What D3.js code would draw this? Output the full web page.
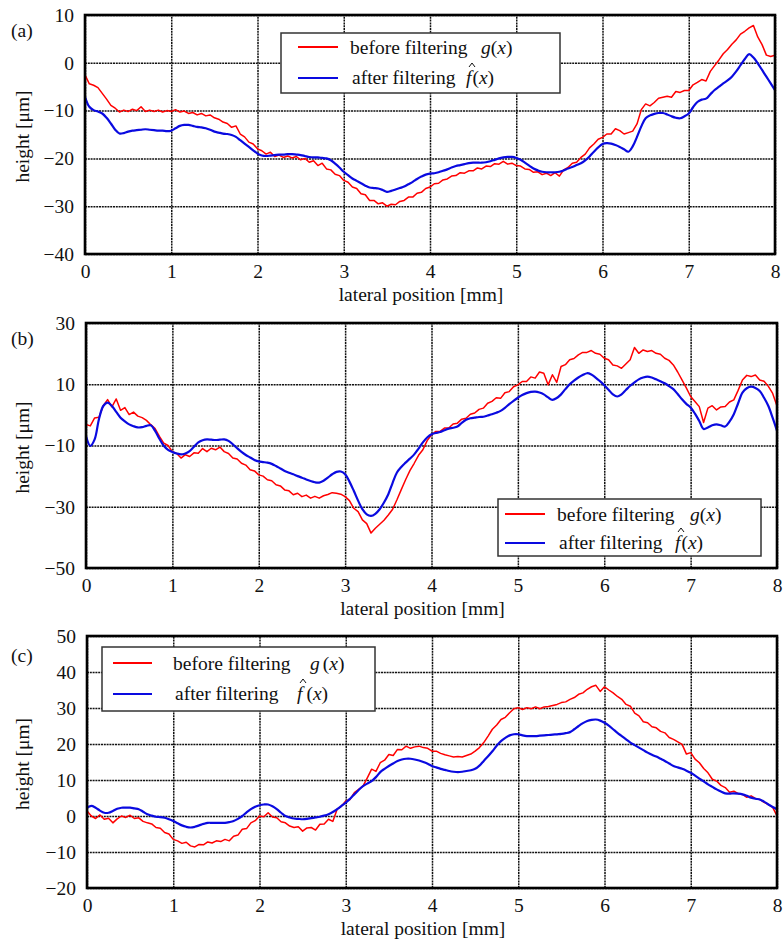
<!DOCTYPE html>
<html>
<head>
<meta charset="utf-8">
<script src="https://cdn.jsdelivr.net/npm/d3@7"></script>
<style>
body { margin: 0; background: #fff; }
svg { display: block; }
</style>
</head>
<body>
<svg width="783" height="943"></svg>
<script>
// samples every 0.05 mm from 0 to 8 mm
var step = 0.05;
var xTicks = [0, 1, 2, 3, 4, 5, 6, 7, 8];
var aTicks = [-40, -30, -20, -10, 0, 10];
var bTicks = [-50, -30, -10, 10, 30];
var cTicks = [-20, -10, 0, 10, 20, 30, 40, 50];

var aRed = [-2.5,-4.4,-4.7,-5.2,-6.4,-7.6,-8.9,-9.5,-10.3,-9.9,-10.2,-9.7,-10.0,-9.2,-10.2,-9.9,-10.2,-9.9,-10.3,-10.0,
  -10.2,-9.8,-10.3,-10.1,-10.6,-10.4,-10.9,-10.6,-11.1,-10.9,-11.5,-11.8,-12.4,-12.7,-13.5,-13.2,-14.9,-15.5,-16.6,-17.0,
  -18.0,-18.4,-19.1,-18.7,-19.6,-19.3,-19.8,-19.5,-19.9,-19.6,-20.3,-20.0,-20.8,-20.5,-21.5,-21.0,-22.2,-22.4,-23.3,-23.6,
  -24.6,-25.0,-26.0,-26.3,-27.4,-27.6,-28.8,-28.8,-29.5,-29.3,-30.0,-29.6,-29.7,-29.0,-28.8,-28.1,-28.1,-27.3,-27.1,-26.3,
  -26.0,-25.3,-25.2,-24.5,-24.3,-23.7,-23.6,-23.0,-23.1,-22.6,-22.6,-22.0,-22.2,-21.6,-21.7,-21.1,-21.2,-20.6,-21.2,-21.0,
  -21.5,-21.6,-22.2,-22.3,-22.9,-22.8,-23.4,-23.1,-23.6,-23.0,-23.7,-22.4,-21.9,-21.0,-20.8,-19.8,-19.1,-17.8,-17.0,-16.0,
  -15.6,-14.9,-14.9,-13.8,-14.2,-14.9,-14.6,-14.3,-12.8,-9.8,-8.6,-9.0,-8.3,-7.4,-7.2,-7.0,-7.2,-6.0,-6.2,-5.8,
  -5.8,-4.6,-4.1,-3.5,-3.8,-1.8,-0.6,0.6,1.9,2.8,3.9,4.8,6.0,6.6,7.3,7.8,5.4,3.8,1.6,1.3,
  1.6];
var aBlue = [-7.1,-9.2,-9.9,-10.2,-10.6,-11.5,-12.7,-14.0,-14.8,-14.7,-14.4,-14.2,-14.1,-14.0,-13.9,-14.0,-14.1,-14.2,-14.2,-14.3,
  -14.2,-13.7,-13.2,-13.0,-13.0,-13.2,-13.4,-13.5,-13.7,-14.0,-14.4,-14.6,-14.8,-14.9,-15.1,-15.5,-16.2,-16.9,-17.6,-18.3,
  -19.0,-19.4,-19.5,-19.4,-19.3,-19.2,-19.2,-19.1,-19.1,-19.2,-19.3,-19.5,-19.7,-19.8,-19.8,-19.9,-20.0,-20.4,-21.1,-21.9,
  -22.8,-23.5,-24.2,-24.7,-25.2,-25.7,-26.1,-26.2,-26.3,-26.6,-27.0,-26.8,-26.5,-26.2,-25.9,-25.4,-24.9,-24.3,-23.8,-23.4,
  -23.2,-23.1,-22.9,-22.6,-22.3,-21.9,-21.6,-21.4,-21.2,-21.0,-20.9,-20.9,-20.9,-20.8,-20.6,-20.3,-20.0,-19.8,-19.7,-19.7,
  -19.9,-20.3,-20.9,-21.5,-22.1,-22.5,-22.8,-22.9,-22.9,-22.9,-22.8,-22.5,-22.1,-21.8,-21.4,-21.0,-20.4,-19.6,-18.6,-17.7,
  -17.0,-16.8,-16.9,-17.2,-17.6,-18.1,-18.6,-17.5,-15.5,-13.3,-11.6,-11.0,-10.7,-10.5,-10.5,-10.8,-11.2,-11.5,-11.6,-11.2,
  -10.6,-9.3,-8.2,-7.7,-7.5,-6.6,-5.7,-5.0,-4.3,-3.7,-2.9,-1.8,-0.5,0.8,1.8,1.1,-0.1,-1.5,-2.9,-4.3,
  -5.7];

var bRed = [-3.1,-3.6,-1.0,-0.8,3.0,5.0,2.6,5.2,1.5,2.4,0.1,0.9,-0.4,-0.9,-1.8,-3.2,-4.5,-7.0,-9.2,-10.0,
  -12.0,-12.6,-14.1,-13.0,-13.6,-12.4,-12.5,-11.0,-12.0,-10.9,-11.4,-10.5,-12.0,-12.6,-14.1,-14.4,-15.8,-16.4,-17.9,-18.3,
  -19.6,-20.0,-21.2,-21.5,-22.8,-23.2,-24.5,-24.8,-26.1,-25.6,-26.7,-26.2,-27.2,-26.6,-27.2,-26.4,-26.0,-25.4,-25.6,-25.9,
  -26.7,-28.0,-30.5,-31.6,-34.3,-35.5,-38.6,-37.0,-35.7,-34.4,-32.7,-30.8,-27.7,-24.4,-21.2,-18.2,-15.8,-13.2,-11.4,-8.4,
  -6.5,-5.4,-5.4,-4.3,-4.3,-3.0,-2.7,-1.4,-1.1,0.2,0.6,1.8,2.2,3.8,4.4,5.6,5.4,7.2,7.6,9.2,
  9.8,10.9,10.9,12.4,12.0,14.0,13.6,9.8,13.1,10.6,15.8,16.4,18.0,18.4,19.6,20.4,20.4,21.0,20.1,19.8,
  18.5,18.0,16.3,16.0,15.2,16.6,18.0,22.0,20.1,21.2,20.7,21.0,20.1,19.8,18.5,17.8,16.3,14.0,11.4,8.8,
  6.0,4.4,2.7,-2.5,2.2,3.0,1.6,2.6,2.7,4.2,4.9,8.0,11.4,12.9,12.5,13.0,11.4,11.0,9.3,7.0,
  2.9];
var bBlue = [-6.9,-10.1,-8.0,-1.4,2.9,4.0,2.9,1.0,-0.9,-2.1,-3.1,-3.7,-4.1,-4.0,-3.6,-3.4,-5.2,-7.8,-10.1,-11.4,
  -12.1,-12.6,-12.9,-12.6,-11.8,-10.4,-9.0,-8.3,-8.0,-8.1,-8.2,-8.1,-8.0,-8.5,-9.6,-10.9,-12.1,-13.1,-13.9,-14.7,
  -15.2,-15.4,-15.6,-16.0,-16.7,-17.5,-18.3,-18.9,-19.4,-20.0,-20.5,-21.1,-21.6,-22.0,-22.1,-21.5,-20.5,-19.4,-18.6,-18.5,
  -19.4,-21.8,-24.8,-28.0,-30.8,-32.5,-33.0,-32.3,-30.8,-28.6,-25.9,-22.2,-18.8,-17.0,-15.6,-14.3,-12.9,-11.0,-9.0,-7.4,
  -6.3,-5.9,-5.6,-5.0,-4.5,-4.2,-3.8,-2.6,-1.6,-1.1,-0.9,-0.7,-0.6,-0.2,0.2,0.7,1.3,2.3,3.5,4.6,
  5.6,6.5,7.1,7.5,7.6,7.3,6.7,5.7,4.9,5.5,6.7,8.4,10.0,11.2,12.2,13.0,13.6,13.2,12.2,11.0,
  9.7,8.2,6.7,6.0,6.7,8.1,9.5,10.6,11.6,12.2,12.5,12.2,11.6,11.0,10.3,9.4,8.4,6.8,5.1,3.6,
  2.4,0.4,-2.0,-4.6,-4.1,-3.4,-3.1,-3.4,-3.8,-2.2,0.2,3.8,7.3,8.7,9.2,8.8,7.8,5.6,2.9,-1.0,
  -5.2];

var cRed = [1.4,0.0,-0.7,0.3,-0.9,-0.6,-1.9,-0.8,0.0,-0.4,0.2,-0.7,-0.5,-1.5,-1.9,-2.2,-3.2,-3.4,-4.6,-5.0,
  -6.5,-6.9,-7.6,-7.3,-8.3,-8.6,-7.9,-8.0,-7.2,-7.5,-6.9,-7.1,-6.5,-6.9,-5.6,-5.3,-3.7,-3.5,-1.9,-1.3,
  0.0,-0.2,0.9,-0.3,-0.5,-1.6,-1.9,-2.8,-3.2,-3.0,-4.2,-3.3,-3.2,-3.9,-2.3,-2.2,-0.9,-1.5,1.9,2.7,
  4.2,4.6,6.5,7.4,8.3,10.6,13.0,12.4,14.8,15.5,17.1,16.8,18.5,18.4,19.4,18.8,19.2,19.4,19.0,18.8,
  18.0,18.0,17.4,17.0,16.7,16.4,16.5,16.4,16.8,17.2,18.0,19.0,20.4,22.2,24.1,25.3,26.8,27.4,28.7,29.8,
  30.1,29.6,30.1,29.8,30.3,29.8,30.3,30.4,30.7,31.0,31.5,31.7,32.4,32.9,33.8,34.2,35.2,35.9,36.3,34.6,
  35.9,35.0,34.2,33.2,32.4,31.0,30.5,28.6,27.8,26.2,25.9,24.8,24.5,23.5,23.1,21.8,21.3,20.6,19.9,17.2,
  17.6,15.8,14.8,13.2,12.0,10.2,9.7,8.5,7.9,6.6,6.9,6.2,6.0,5.2,5.6,4.9,4.6,3.8,3.2,2.4,
  0.0];
var cBlue = [2.3,2.8,2.3,1.5,0.9,0.9,1.4,2.0,2.3,2.3,2.3,2.1,1.9,1.2,0.5,0.1,-0.2,-0.3,-0.5,-0.9,
  -1.4,-2.0,-2.6,-3.0,-3.2,-3.0,-2.6,-2.2,-1.9,-1.9,-1.9,-1.9,-1.9,-1.7,-1.4,-0.8,0.0,1.0,1.9,2.6,
  3.0,3.2,3.2,2.7,1.9,0.9,0.0,-0.4,-0.7,-0.8,-0.9,-0.8,-0.6,-0.4,-0.2,0.1,0.5,1.1,1.9,2.8,
  3.7,4.8,6.0,7.2,8.3,9.0,9.7,10.8,12.2,13.1,13.9,14.6,15.3,15.7,15.9,15.9,15.7,15.4,15.0,14.5,
  13.9,13.5,13.1,12.8,12.5,12.3,12.2,12.3,12.5,12.7,13.1,14.0,15.3,16.6,18.0,19.5,20.8,21.7,22.4,22.7,
  22.7,22.4,22.2,22.2,22.2,22.3,22.4,22.5,22.6,22.7,22.8,23.0,23.3,24.1,25.0,25.8,26.4,26.7,26.8,26.5,
  25.9,25.1,24.1,23.1,22.2,21.3,20.4,19.7,19.0,18.3,17.6,17.0,16.5,15.9,15.3,14.6,13.9,13.5,13.1,12.6,
  12.0,11.2,10.4,9.6,8.8,8.1,7.4,6.8,6.3,6.2,6.3,6.2,6.0,5.6,5.1,4.8,4.6,4.0,3.2,2.5,
  1.9];

var svg = d3.select("svg");
var font = 19.5;
var serif = "'Liberation Serif', 'Times New Roman', Tinos, 'DejaVu Serif', serif";

var panels = [
  { tag: "(a)", red: aRed, blue: aBlue, ticks: aTicks, left: 85, right: 775, top: 15, bottom: 254, tagY: 37,
    leg: { x: 281, y: 33, w: 279, h: 60, l0: 17, l1: 57, ry: 14, by: 45, tx: 69, gx: 200, fx: 185, gap: 0 } },
  { tag: "(b)", red: bRed, blue: bBlue, ticks: bTicks, left: 86, right: 777, top: 323, bottom: 568, tagY: 345,
    leg: { x: 498, y: 499, w: 263, h: 57, l0: 7, l1: 47, ry: 15, by: 44, tx: 59, gx: 192, fx: 177, gap: 0 } },
  { tag: "(c)", red: cRed, blue: cBlue, ticks: cTicks, left: 87, right: 777, top: 636, bottom: 888, tagY: 662,
    leg: { x: 102, y: 647, w: 273, h: 64, l0: 11, l1: 50, ry: 16, by: 47, tx: 71, gx: 208, fx: 195, gap: 3 } }
];

panels.forEach(function(p, k) {
  var x = d3.scaleLinear().domain([0, 8]).range([p.left, p.right]);
  var y = d3.scaleLinear().domain(d3.extent(p.ticks)).range([p.bottom, p.top]);
  var h = p.bottom - p.top, w = p.right - p.left;
  var g = svg.append("g").style("font-family", serif).attr("fill", "#111");

  var clipId = "clip" + k;
  g.append("clipPath").attr("id", clipId)
    .append("rect").attr("x", p.left).attr("y", p.top).attr("width", w).attr("height", h);

  // grid + tick labels
  var xa = g.append("g").attr("transform", "translate(0," + p.bottom + ")")
    .call(d3.axisBottom(x).tickValues(xTicks).tickSize(-h).tickPadding(10).tickFormat(d3.format("d")));
  var ya = g.append("g").attr("transform", "translate(" + p.left + ",0)")
    .call(d3.axisLeft(y).tickValues(p.ticks).tickSize(-w).tickPadding(11)
      .tickFormat(function(d) { return d < 0 ? "\u2212" + Math.abs(d) : d; }));
  [xa, ya].forEach(function(a) {
    a.attr("font-family", null).attr("font-size", font);
    a.select(".domain").remove();
    a.selectAll("line").attr("stroke", "#111").attr("stroke-width", 1.5).attr("stroke-dasharray", "2,0.8");
    a.selectAll("text").attr("fill", "#111");
  });

  var line = d3.line().x(function(d, i) { return x(i * step); }).y(function(d) { return y(d); });
  g.append("path").datum(p.red).attr("clip-path", "url(#" + clipId + ")")
    .attr("fill", "none").attr("stroke", "#ff0000").attr("stroke-width", 1.5)
    .attr("stroke-linejoin", "round").attr("d", line);
  g.append("path").datum(p.blue).attr("clip-path", "url(#" + clipId + ")")
    .attr("fill", "none").attr("stroke", "#0a0ae0").attr("stroke-width", 2.2)
    .attr("d", line.curve(d3.curveCatmullRom));

  // frame
  g.append("rect").attr("x", p.left).attr("y", p.top).attr("width", w).attr("height", h)
    .attr("fill", "none").attr("stroke", "#000").attr("stroke-width", 2.6);

  // legend
  var L = p.leg;
  var lg = g.append("g").attr("transform", "translate(" + L.x + "," + L.y + ")");
  lg.append("rect").attr("width", L.w).attr("height", L.h)
    .attr("fill", "#fff").attr("stroke", "#333").attr("stroke-width", 1.5);
  lg.append("line").attr("x1", L.l0).attr("x2", L.l1).attr("y1", L.ry).attr("y2", L.ry)
    .attr("stroke", "#ff0000").attr("stroke-width", 1.8);
  lg.append("line").attr("x1", L.l0).attr("x2", L.l1).attr("y1", L.by).attr("y2", L.by)
    .attr("stroke", "#0a0ae0").attr("stroke-width", 1.8);
  lg.append("text").attr("x", L.tx).attr("y", L.ry + 7).attr("font-size", font).text("before filtering");
  lg.append("text").attr("x", L.tx + 2).attr("y", L.by + 6).attr("font-size", font).text("after filtering");

  var gt = lg.append("text").attr("x", L.gx).attr("y", L.ry + 7).attr("font-size", font);
  gt.append("tspan").attr("font-style", "italic").text("g");
  gt.append("tspan").attr("dx", L.gap).text("(");
  gt.append("tspan").attr("font-style", "italic").text("x");
  gt.append("tspan").text(")");
  var ft = lg.append("text").attr("x", L.fx).attr("y", L.by + 6).attr("font-size", font);
  ft.append("tspan").attr("font-style", "italic").text("f");
  ft.append("tspan").attr("dx", L.gap + 1).text("(");
  ft.append("tspan").attr("font-style", "italic").text("x");
  ft.append("tspan").text(")");
  // hat over f
  lg.append("path")
    .attr("d", "M" + (L.fx + 3) + "," + (L.by - 11) + "L" + (L.fx + 6) + "," + (L.by - 15) + "L" + (L.fx + 9) + "," + (L.by - 11))
    .attr("fill", "none").attr("stroke", "#111").attr("stroke-width", 1);

  // labels
  g.append("text").attr("x", (p.left + p.right) / 2 - 9).attr("y", p.bottom + 47)
    .attr("text-anchor", "middle").attr("font-size", font).text("lateral position [mm]");
  g.append("text").attr("transform", "translate(29," + ((p.top + p.bottom) / 2 + 2) + ") rotate(-90)")
    .attr("text-anchor", "middle").attr("font-size", font).text("height [\u03bcm]");
  g.append("text").attr("x", 11).attr("y", p.tagY).attr("font-size", font).text(p.tag);
});
</script>
</body>
</html>
